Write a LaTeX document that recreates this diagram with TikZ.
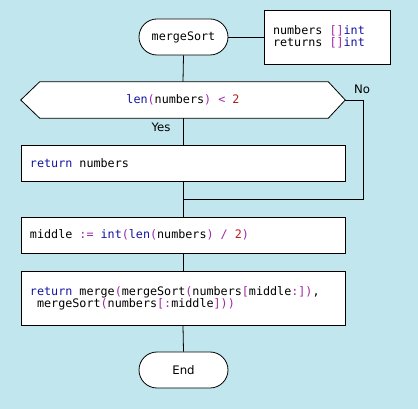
\documentclass[tikz,border=0pt]{standalone}
\usepackage{fontspec}
\setmonofont{DejaVu Sans Mono}
\setsansfont{DejaVu Sans}
\usetikzlibrary{backgrounds}
\definecolor{bgblue}{RGB}{194,230,237}
\definecolor{kwblue}{RGB}{20,20,160}
\definecolor{pupurple}{RGB}{160,40,170}
\definecolor{numred}{RGB}{180,30,30}
\newcommand{\ckw}[1]{\textcolor{kwblue}{#1}}
\newcommand{\cpu}[1]{\textcolor{pupurple}{#1}}
\newcommand{\cnum}[1]{\textcolor{numred}{#1}}
\newcommand{\csp}{\hphantom{x}}
\newcommand{\codesel}{\ttfamily\fontsize{8.8}{9}\selectfont}
\tikzset{
  codefont/.style={font=\codesel},
  terminal/.style={draw, fill=white, line width=0.6pt, rounded corners=13.5pt,
    minimum width=66.75pt, minimum height=27pt, inner sep=0pt},
  stepbox/.style={draw, fill=white, line width=0.6pt, codefont,
    minimum width=243pt, text width=229.5pt, inner xsep=6.75pt, inner ysep=0pt, align=left},
  parambox/.style={draw, fill=white, line width=0.6pt, codefont,
    minimum width=94.5pt, minimum height=40.5pt, text width=81pt, inner xsep=6.75pt, inner ysep=0pt, align=left},
  hexnode/.style={codefont, minimum width=243pt, minimum height=27pt, inner sep=0pt},
  conn/.style={line width=0.6pt},
  lblfont/.style={font=\sffamily\fontsize{8.8}{10}\selectfont},
  lbl/.style={lblfont, inner sep=0pt},
}
\begin{document}
\begin{tikzpicture}[x=0.75pt, y=-0.75pt]
\useasboundingbox (0,0) rectangle (418,409);
\begin{scope}[on background layer]
\fill[bgblue] (0,0) rectangle (418,409);
\end{scope}
% nodes
\node[terminal, codefont] (start) at (183.5,37) {mergeSort};
\node[parambox] (params) at (327,37) {numbers\csp\cpu{[]}\ckw{int}\\returns\csp\cpu{[]}\ckw{int}};
\node[hexnode] (cond) at (183,100) {\ckw{len}\cpu{(}numbers\cpu{)}\csp\cpu{<}\csp\cnum{2}};
\begin{scope}[on background layer]
\draw[fill=white, line width=0.6pt] (cond.west) -- ([xshift=14.25pt]cond.north west) -- ([xshift=-12.75pt]cond.north east) -- (cond.east) -- ([xshift=-12.75pt]cond.south east) -- ([xshift=14.25pt]cond.south west) -- cycle;
\end{scope}
\node[stepbox, minimum height=27pt] (ret) at (183,163) {\ckw{return}\csp numbers};
\node[stepbox, minimum height=27pt] (mid) at (183,235) {middle\csp\cpu{:=}\csp\ckw{int}\cpu{(}\ckw{len}\cpu{(}numbers\cpu{)}\csp\cpu{/}\csp\cnum{2}\cpu{)}};
\node[stepbox, minimum height=40.5pt] (rec) at (183,298) {\ckw{return}\csp merge\cpu{(}mergeSort\cpu{(}numbers\cpu{[}middle\cpu{:])},\\\csp mergeSort\cpu{(}numbers\cpu{[:}middle\cpu{]))}};
\node[terminal, lblfont] (end) at (183.5,370) {End};
\coordinate (join) at (183,199);
\coordinate (nocorner) at (363,100);
% connectors
\draw[conn] (start.east) -- (params.west);
\draw[conn] (start.south) -- (cond.north);
\draw[conn] (cond.south) -- (ret.north);
\draw[conn] (cond.east) -- (nocorner) |- (join);
\draw[conn] (ret.south) -- (mid.north);
\draw[conn] (mid.south) -- (rec.north);
\draw[conn] (rec.south) -- (end.north);
% labels
\node[lbl] (yes) at (161,127) {Yes};
\node[lbl] (no) at (362,89) {No};
\end{tikzpicture}
\end{document}
